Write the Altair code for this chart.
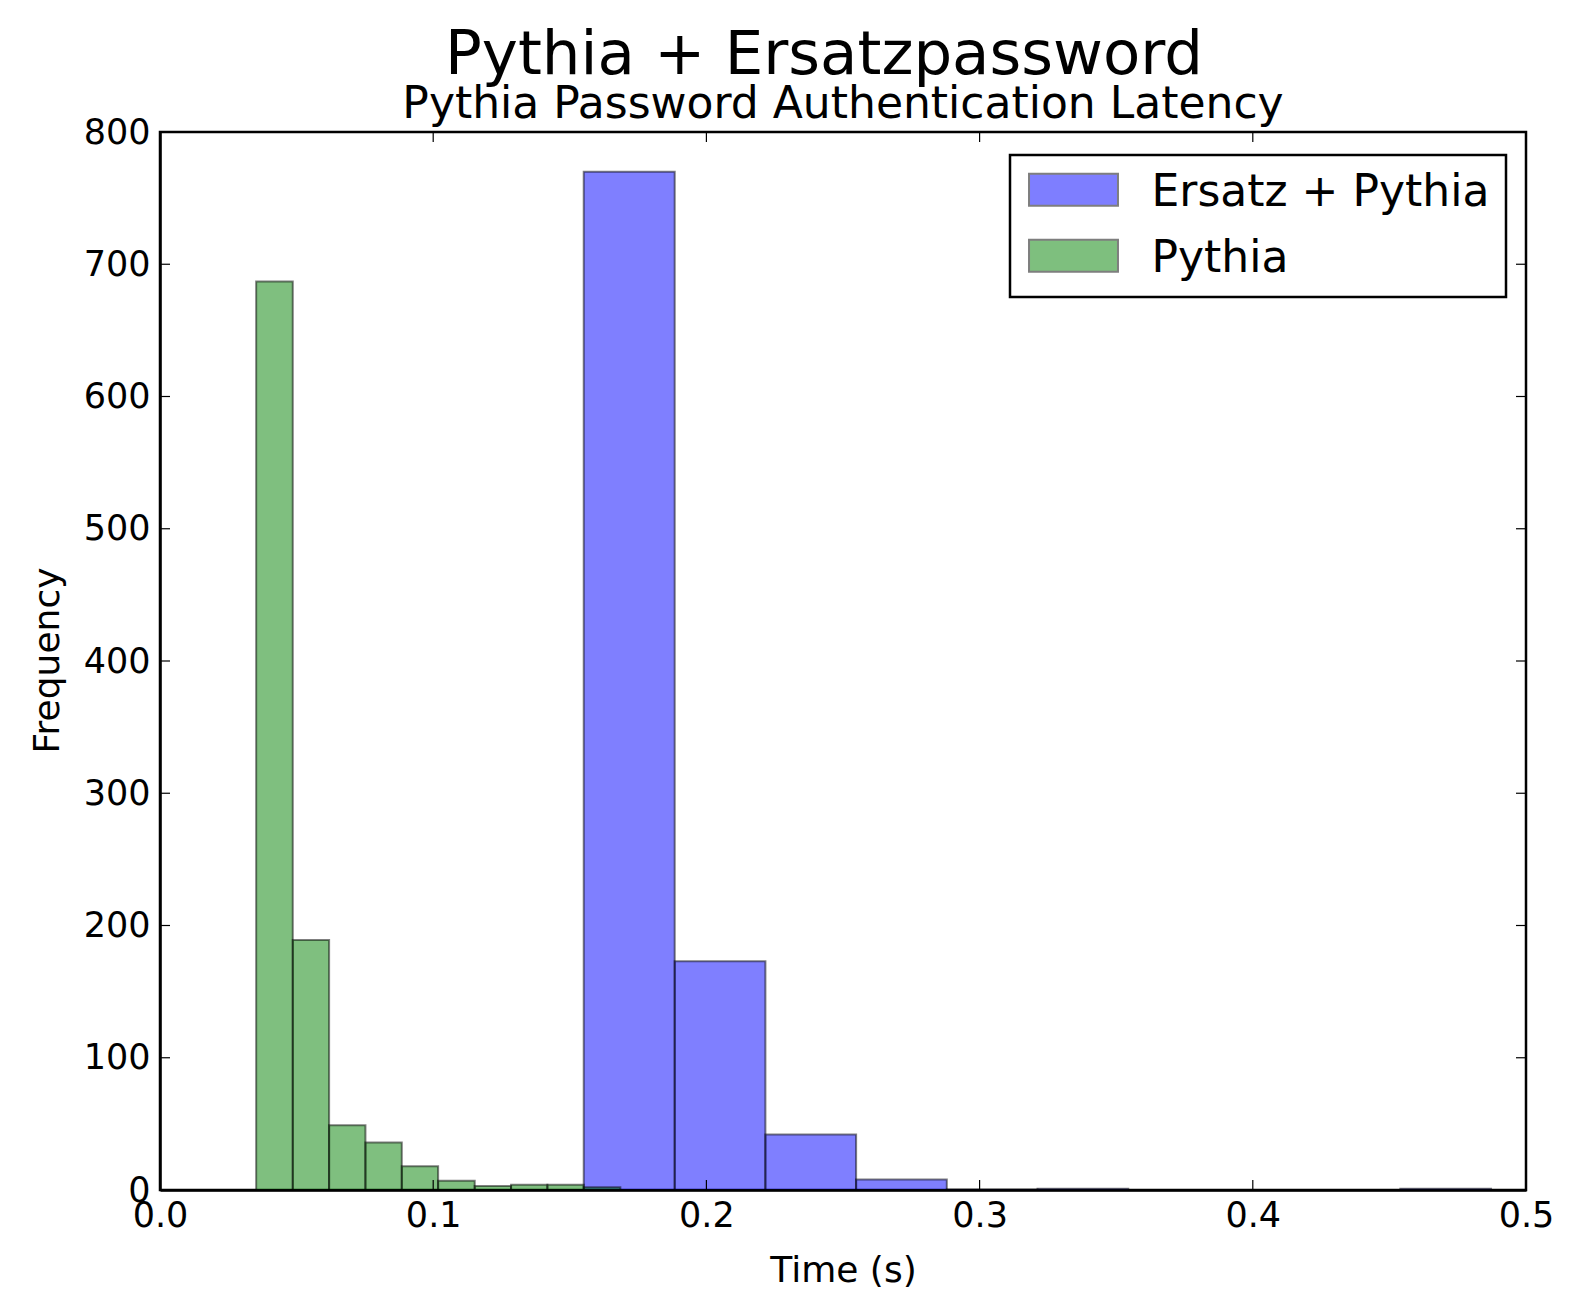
import altair as alt
import pandas as pd

# ---- data ----
SERIES = ["Ersatz + Pythia", "Pythia"]
COLORS = ["#0000ff", "#008000"]

# Ersatz + Pythia histogram (bin edges in seconds, counts)
ersatz_edges = [0.1551, 0.1884, 0.2216, 0.2548, 0.2880, 0.3212, 0.3544, 0.3876, 0.4208, 0.4540, 0.4872]
ersatz_counts = [770, 173, 42, 8, 0.4, 1, 0, 0, 0, 1]

# Pythia histogram
pythia_edges = [0.0352, 0.0486, 0.0619, 0.0752, 0.0885, 0.1018, 0.1152, 0.1285, 0.1418, 0.1551, 0.1685]
pythia_counts = [687, 189, 49, 36, 18, 7, 3, 4, 4, 2]

x_ticks = [0.0, 0.1, 0.2, 0.3, 0.4, 0.5]
y_ticks = [0, 100, 200, 300, 400, 500, 600, 700, 800]

MAIN_TITLE = "Pythia + Ersatzpassword"
SUB_TITLE = "Pythia Password Authentication Latency"
X_TITLE = "Time (s)"
Y_TITLE = "Frequency"

W, H = 1366, 1058
FONT = "DejaVu Sans"

rows = []
for name, edges, counts in [(SERIES[0], ersatz_edges, ersatz_counts),
                            (SERIES[1], pythia_edges, pythia_counts)]:
    for i, c in enumerate(counts):
        rows.append({"series": name, "x0": edges[i], "x1": edges[i + 1], "count": c, "order": len(rows)})
df = pd.DataFrame(rows)
df = df[df["count"] > 0]

xscale = alt.Scale(domain=[0, 0.5], nice=False, zero=False)
yscale = alt.Scale(domain=[0, 800], nice=False)

X_AXIS = alt.Axis(
    values=x_ticks, format=".1f", title=X_TITLE, grid=False, ticks=False,
    domain=True, domainColor="black", domainWidth=2.5,
    labelFontSize=35, labelFont=FONT, labelColor="black", labelPadding=8,
    labelFlush=False, labelOverlap=False,
    titleFontSize=36, titleFont=FONT, titleColor="black", titleFontWeight="normal",
    titleY=91, titleBaseline="alphabetic", zindex=1)
Y_AXIS = alt.Axis(
    values=y_ticks, format="d", title=Y_TITLE, grid=False, ticks=False,
    domain=True, domainColor="black", domainWidth=2.5,
    labelFontSize=35, labelFont=FONT, labelColor="black", labelPadding=10,
    labelFlush=False, labelOverlap=False,
    titleFontSize=36, titleFont=FONT, titleColor="black", titleFontWeight="normal",
    titleX=-102, titleY=528, titleBaseline="alphabetic", titleAngle=-90, zindex=1)

bars = alt.Chart(df).mark_bar(
    fillOpacity=0.5, stroke="black", strokeOpacity=0.5, strokeWidth=2
).encode(
    x=alt.X("x0:Q", scale=xscale, axis=X_AXIS),
    x2="x1:Q",
    y=alt.Y("count:Q", scale=yscale, stack=None, axis=Y_AXIS),
    y2=alt.datum(0),
    color=alt.Color("series:N", scale=alt.Scale(domain=SERIES, range=COLORS), legend=alt.Legend(
        title=None, orient="none", legendX=850, legendY=23,
        labelFontSize=44, labelFont=FONT, labelColor="black", labelOffset=56, labelLimit=0,
        symbolType="M-2.78,-1.2H2.78V0.8H-2.78Z", symbolSize=1024, symbolOffset=25.5,
        symbolStrokeColor="black", symbolStrokeWidth=2, symbolOpacity=0.5,
        strokeColor="black", fillColor="white", padding=16, rowPadding=20)),
    order=alt.Order("order:Q"),
)

xt = pd.DataFrame({"v": x_ticks})
yt = pd.DataFrame({"v": y_ticks})

xt_bottom = alt.Chart(xt).mark_rule(color="black", strokeWidth=1.2).encode(
    x=alt.X("v:Q", scale=xscale, axis=X_AXIS), y=alt.value(H), y2=alt.value(H - 10))
xt_top = alt.Chart(xt).mark_rule(color="black", strokeWidth=1.2).encode(
    x=alt.X("v:Q", scale=xscale, axis=X_AXIS), y=alt.value(0), y2=alt.value(10))
yt_left = alt.Chart(yt).mark_rule(color="black", strokeWidth=1.2).encode(
    y=alt.Y("v:Q", scale=yscale, axis=Y_AXIS), x=alt.value(0), x2=alt.value(10))
yt_right = alt.Chart(yt).mark_rule(color="black", strokeWidth=1.2).encode(
    y=alt.Y("v:Q", scale=yscale, axis=Y_AXIS), x=alt.value(W - 10), x2=alt.value(W))

main_t = alt.Chart(pd.DataFrame({"t": [MAIN_TITLE]})).mark_text(
    font=FONT, fontSize=61, color="black", align="center", baseline="alphabetic"
).encode(text="t:N", x=alt.value(664), y=alt.value(-58))
sub_t = alt.Chart(pd.DataFrame({"t": [SUB_TITLE]})).mark_text(
    font=FONT, fontSize=44, color="black", align="center", baseline="alphabetic"
).encode(text="t:N", x=alt.value(683), y=alt.value(-14))

chart = alt.layer(bars, xt_bottom, xt_top, yt_left, yt_right, main_t, sub_t).properties(
    width=W, height=H,
    background="white",
    autosize=alt.AutoSizeParams(type="none"),
    padding={"left": 152, "top": 124, "right": 47, "bottom": 110},
).configure_view(stroke="black", strokeWidth=2.5).configure_legend(strokeWidth=2.5)

chart.save("out.html", embed_options={"renderer": "svg", "actions": False})
